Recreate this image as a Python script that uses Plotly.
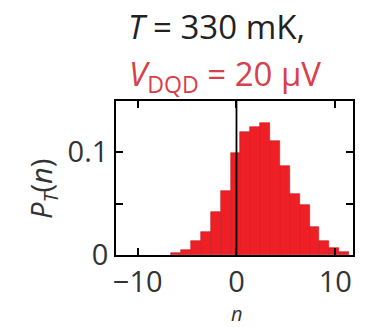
import plotly.graph_objects as go

# Data
bin_centers = [-6.1, -5.1, -4.1, -3.1, -2.1, -1.1, -0.1, 0.9, 1.9, 2.9,
               3.9, 4.9, 5.9, 6.9, 7.9, 8.9, 9.9, 10.9]
probabilities = [0.0022, 0.005, 0.0136, 0.0226, 0.042, 0.0624, 0.099, 0.12, 0.125, 0.129,
                 0.111, 0.0864, 0.059, 0.0485, 0.0275, 0.0136, 0.0068, 0.0032]
x_tick_vals = [-10, 0, 10]
x_tick_text = ["\u221210", "0", "10"]
y_tick_vals = [0, 0.1]
y_tick_text = ["0", "0.1"]
y_minor_tick_vals = [0.05]

W, H = 370, 327
L, R, T, B = 116, 17, 101, 72
ph = H - T - B
pw = W - L - R

def px_x(x):
    return (x - L) / pw

def px_y(y):
    return (H - B - y) / ph

FONT = "Open Sans"
TXT = "#333333"
RED_TXT = "#d8404a"

fig = go.Figure()
fig.add_trace(go.Bar(
    x=bin_centers, y=probabilities, width=1.0,
    marker=dict(color="#ee2026", line=dict(color="#c81a20", width=0.6)),
    showlegend=False,
))

fig.add_shape(type="line", xref="x", yref="paper", x0=0, x1=0, y0=0, y1=1,
              line=dict(color="black", width=1.8), layer="above")

axis_common = dict(ticks="inside", ticklen=7, tickwidth=1.5, tickcolor="black",
                   showline=True, linecolor="black", linewidth=1.6, mirror="ticks",
                   showgrid=False, zeroline=False,
                   tickfont=dict(family=FONT, size=29, color=TXT))

fig.update_layout(
    width=W, height=H,
    margin=dict(l=L, r=R, t=T, b=B, pad=0),
    paper_bgcolor="white", plot_bgcolor="white",
    bargap=0,
    font=dict(family=FONT, size=29, color=TXT),
    xaxis=dict(range=[-12.2, 11.8], tickvals=x_tick_vals, ticktext=x_tick_text,
               **axis_common),
    yaxis=dict(range=[0, 0.15], tickvals=y_tick_vals, ticktext=y_tick_text,
               minor=dict(tickvals=y_minor_tick_vals, ticks="inside", ticklen=7,
                          tickwidth=1.5, tickcolor="black", showgrid=False),
               **axis_common),
)

annotations = [
    dict(text="<i>T</i> = 330 mK,", x=px_x(216), y=px_y(27),
         font=dict(family=FONT, size=33, color="#222222")),
    dict(text="<i>V</i><sub>DQD</sub> = 20 \u03bcV", x=px_x(225), y=px_y(76),
         font=dict(family=FONT, size=33, color=RED_TXT)),
    dict(text="<i>P</i><sub><i>T</i></sub>(<i>n</i>)", x=px_x(42), y=px_y(189),
         textangle=-90, font=dict(family=FONT, size=29, color=TXT)),
    dict(text="<i>n</i>", x=px_x(237), y=px_y(313),
         font=dict(family=FONT, size=20, color=TXT)),
]
for a in annotations:
    a.update(xref="paper", yref="paper", showarrow=False, borderpad=0,
             xanchor="center", yanchor="middle")
fig.update_layout(annotations=annotations)

fig.write_html("out.html")
